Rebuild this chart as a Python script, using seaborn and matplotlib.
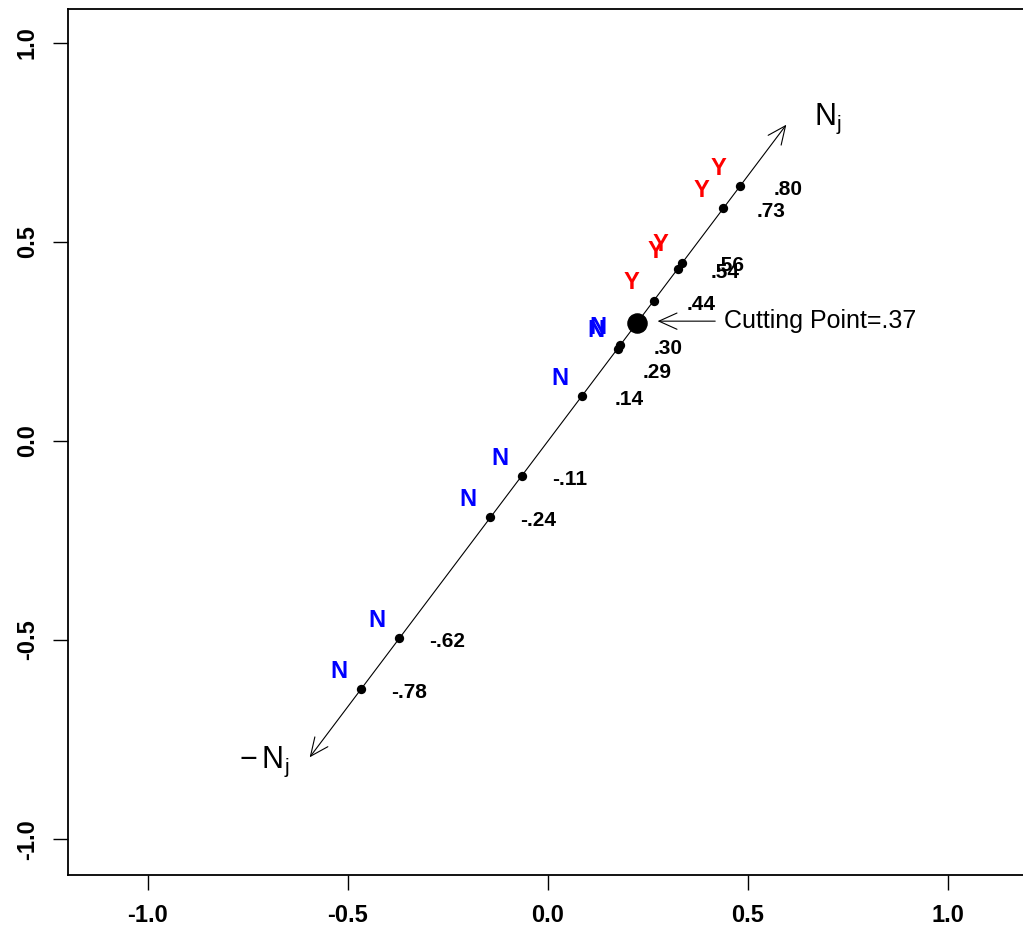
import numpy as np
import pandas as pd
import matplotlib
matplotlib.use("Agg")
import matplotlib.pyplot as plt
import seaborn as sns

# projections on the N_j axis
values = [0.80, 0.73, 0.56, 0.54, 0.44, 0.30, 0.29, 0.14, -0.11, -0.24, -0.62, -0.78]
labels = [".80", ".73", ".56", ".54", ".44", ".30", ".29", ".14", "-.11", "-.24", "-.62", "-.78"]
votes = ["Y", "Y", "Y", "Y", "Y", "N", "N", "N", "N", "N", "N", "N"]
direction = [0.6, 0.8]
cutting_point = 0.37
ticks = [-1.0, -0.5, 0.0, 0.5, 1.0]

sns.set_style("white")
plt.rcParams["font.family"] = ["Liberation Sans", "DejaVu Sans"]
plt.rcParams["mathtext.fontset"] = "custom"
plt.rcParams["mathtext.rm"] = "Liberation Sans"
plt.rcParams["text.color"] = "black"

df = pd.DataFrame({"t": values, "label": labels, "vote": votes})
df["x"] = df["t"] * direction[0]
df["y"] = df["t"] * direction[1]

fig = plt.figure(figsize=(10.23, 9.44), dpi=100)
ax = fig.add_axes([68 / 1023, 69 / 944, 960 / 1023, 866 / 944])

# the N_j axis with arrows at both ends
ax.annotate("", xy=(direction[0], direction[1]), xytext=(-direction[0], -direction[1]),
            arrowprops=dict(arrowstyle="<->, head_length=1.0, head_width=0.45",
                            color="black", lw=0.8, mutation_scale=13))

sns.scatterplot(data=df, x="x", y="y", color="black", s=45, marker="o",
                edgecolor="black", linewidth=0, ax=ax, legend=False, zorder=3)

colors = {"Y": "#FF0000", "N": "#0000FF"}
for _, r in df.iterrows():
    ax.text(r["x"] - 0.055, r["y"] + 0.045, r["vote"], color=colors[r["vote"]],
            fontsize=17, fontweight="bold", ha="center", va="center")
    dy = -0.06 if r["label"] == ".29" else -0.008
    dx = 0.10 if r["label"] == ".29" else 0.12
    ax.text(r["x"] + dx, r["y"] + dy, r["label"], color="black",
            fontsize=15, fontweight="bold", ha="center", va="center")

# cutting point
cx, cy = cutting_point * direction[0], cutting_point * direction[1]
ax.scatter([cx], [cy], s=190, color="black", zorder=4)
ax.annotate("", xy=(cx + 0.045, cy + 0.005), xytext=(cx + 0.203, cy + 0.005),
            arrowprops=dict(arrowstyle="->, head_length=1.0, head_width=0.45",
                            color="black", lw=0.8, mutation_scale=13))
ax.text(cx + 0.218, cy + 0.005, "Cutting Point=.37", fontsize=18, color="black",
        ha="left", va="center")

ax.text(0.70, 0.81, r"$\mathrm{N_j}$", fontsize=22, color="black", ha="center", va="center")
ax.text(-0.71, -0.806, r"$-\,\mathrm{N_j}$", fontsize=22, color="black",
        ha="center", va="center")

ax.set_xlim(-1.2, 1.2)
ax.set_ylim(-1.09, 1.085)
ax.set_xticks(ticks)
ax.set_yticks(ticks)
ax.set_xticklabels([f"{v:.1f}" for v in ticks], fontsize=17, fontweight="bold")
ax.set_yticklabels([f"{v:.1f}" for v in ticks], fontsize=17, fontweight="bold",
                   rotation=90, va="center")
ax.tick_params(axis="both", direction="out", length=11, width=1.0, color="black",
               labelcolor="black", bottom=True, left=True, pad=10)
ax.set_xlabel("")
ax.set_ylabel("")
for s in ax.spines.values():
    s.set_color("black")
    s.set_linewidth(1.3)

fig.savefig("out.png", dpi=100)
